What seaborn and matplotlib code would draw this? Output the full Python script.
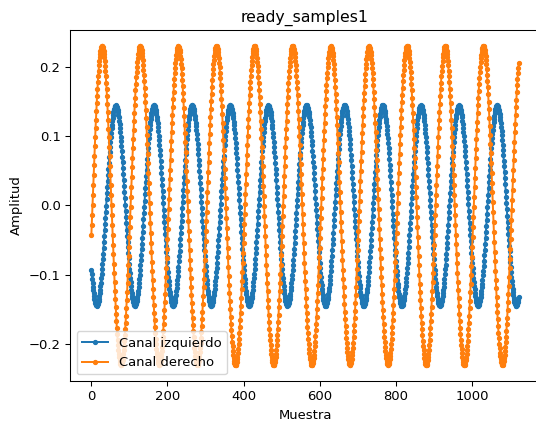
import matplotlib

matplotlib.use("Agg")
import matplotlib.pyplot as plt
import numpy as np
import seaborn as sns

# stereo test tone: 440 Hz at 44.1 kHz, ~1124 samples
sample_rate = 44100
tone_hz = 440
n_samples = 1124
channel_names = ["Canal izquierdo", "Canal derecho"]
channel_amplitudes = [0.145, 0.231]
channel_phases = [3.838, -0.183]  # radians, from the first samples
channel_colors = ["tab:blue", "tab:orange"]

title = "ready_samples1"
x_label = "Muestra"
y_label = "Amplitud"

scale = 0.9476
plt.rcParams.update({
    "font.size": 10 * scale,
    "axes.titlesize": 12 * scale,
    "axes.linewidth": 0.8 * scale,
    "xtick.major.size": 3.5 * scale,
    "ytick.major.size": 3.5 * scale,
    "xtick.major.width": 0.8 * scale,
    "ytick.major.width": 0.8 * scale,
})

fig = plt.figure(figsize=(5.36, 4.26), dpi=100)
ax = fig.add_axes([70 / 536, 45 / 426, 470 / 536, 351 / 426])

samples = np.arange(n_samples)
for name, amp, phase, color in zip(channel_names, channel_amplitudes, channel_phases, channel_colors):
    values = amp * np.sin(2 * np.pi * tone_hz * samples / sample_rate + phase)
    sns.lineplot(
        x=samples,
        y=values,
        ax=ax,
        label=name,
        color=color,
        marker=".",
        markersize=6 * scale,
        markeredgecolor=color,
        markeredgewidth=1.0 * scale,
        linewidth=1.5 * scale,
        sort=False,
        errorbar=None,
    )

ax.margins(x=0.05, y=0.05)
ax.set_title(title, pad=6 * scale)
ax.set_xlabel(x_label)
ax.set_ylabel(y_label)
ax.legend(loc="lower left")

fig.savefig("out.png", dpi=100)
plt.close(fig)
